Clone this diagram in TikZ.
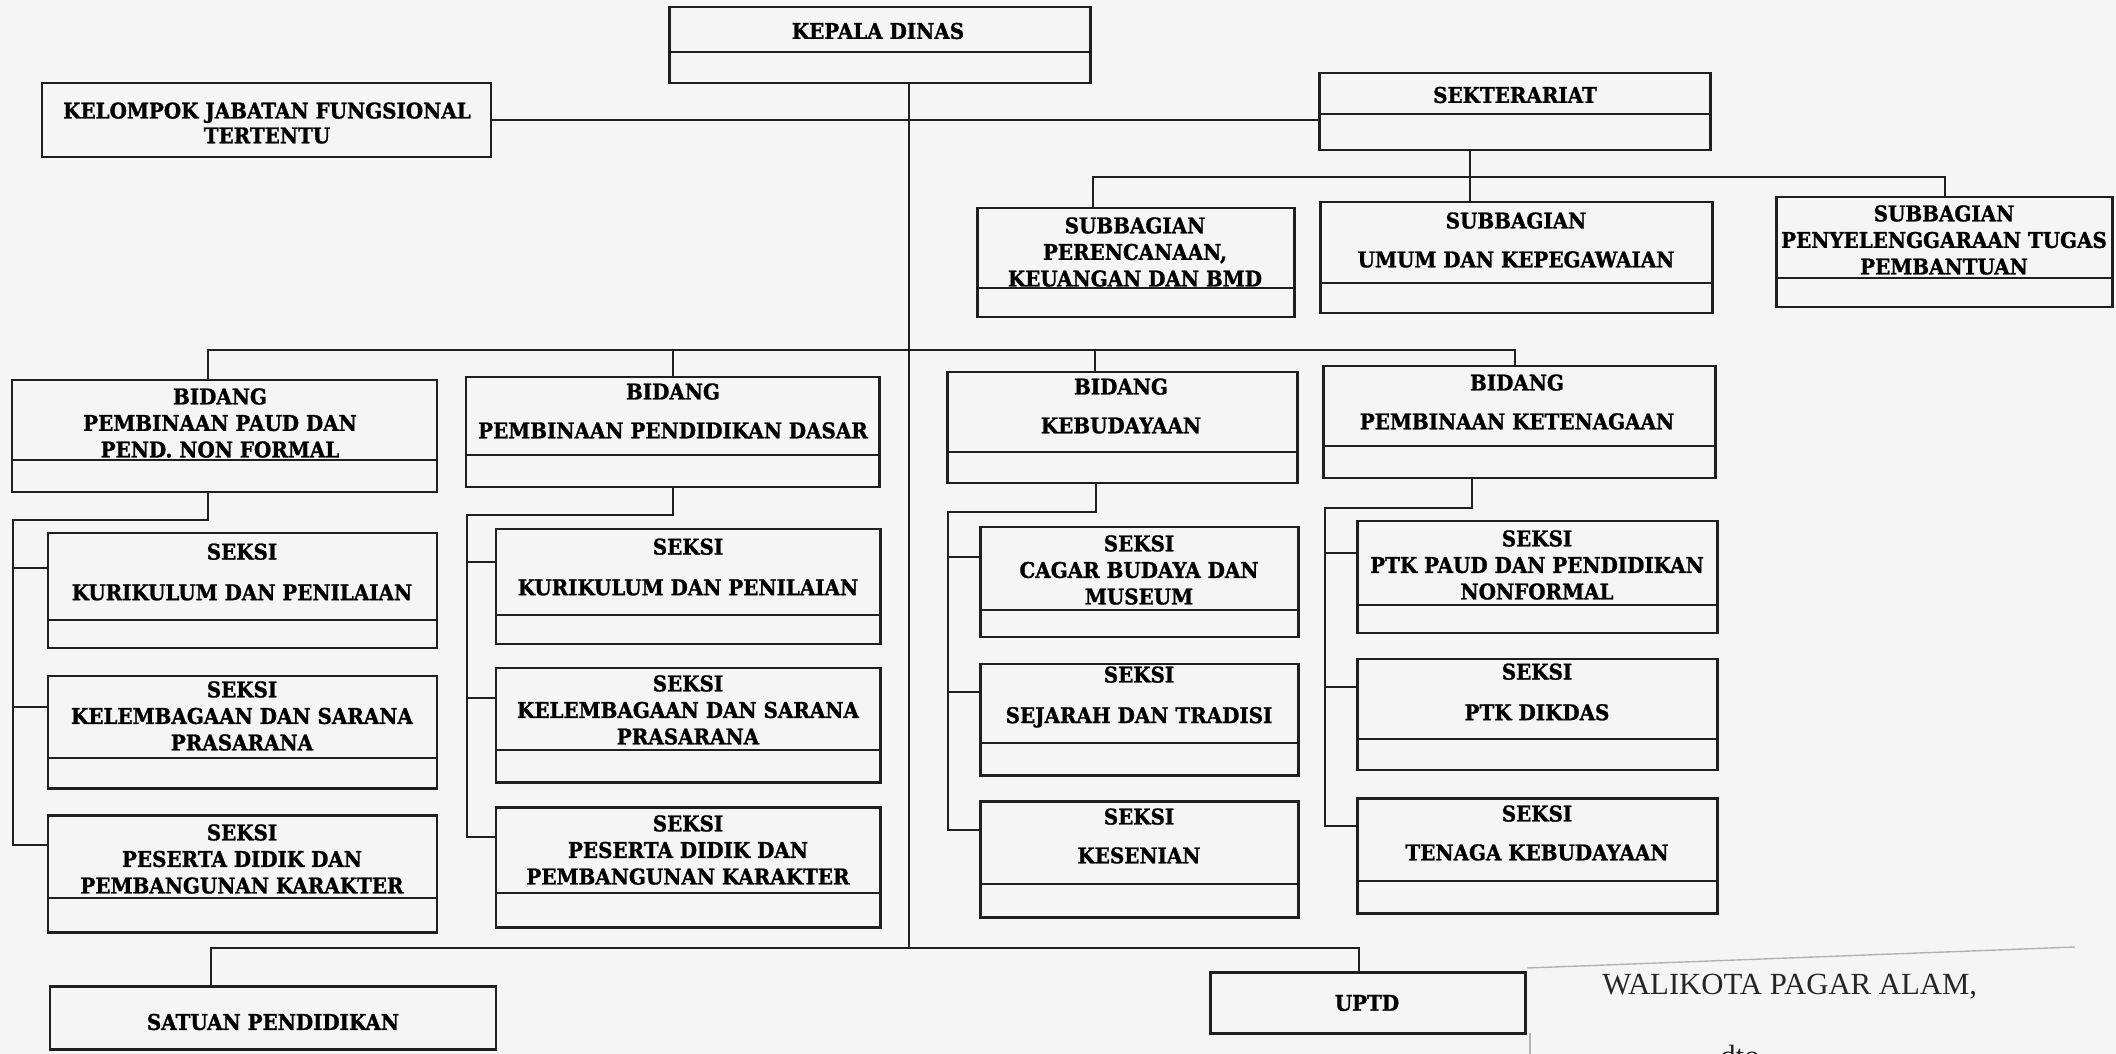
\documentclass[tikz,border=0pt]{standalone}
\usepackage{fontspec}
\setmainfont{DejaVu Serif}
\newfontfamily\boxfont{DejaVu Serif}[FakeStretch=0.92, BoldFeatures={FakeBold=1.2}]
\newfontfamily\sigfont{Liberation Serif}
\usetikzlibrary{fit}
\tikzset{
  orgbox/.style={draw=black!88, line width=1.7pt, inner sep=0pt},
  divline/.style={draw=black!88, line width=1.6pt},
  conn/.style={draw=black!88, line width=1.2pt},
  lbl/.style={font=\boxfont\bfseries\fontsize{12.3}{15.1}\selectfont, align=center, inner sep=0pt, text=black},
  sig/.style={font=\sigfont\fontsize{17.5}{20}\selectfont, inner sep=0pt, text=black!85},
  artifact/.style={draw=black!30, line width=0.8pt},
}
\newcommand\obox[6]{\node[orgbox, fit={(#2,#3) (#4,#5)}] (#1) {};\draw[divline] (#2,#6) -- (#4,#6);}
\newcommand\pbox[5]{\node[orgbox, fit={(#2,#3) (#4,#5)}] (#1) {};}
\begin{document}
\begin{tikzpicture}[x=0.02cm,y=-0.02cm]
\useasboundingbox (0,0) rectangle (2116,1054);
\fill[black!4] (0,0) rectangle (2116,1054);

% ---- boxes ----
\obox{kd}{669}{7}{1090}{83}{52}
\pbox{kel}{42}{83}{491}{157}
\obox{sek}{1319}{73}{1710}{150}{114}
\obox{sub1}{977}{208}{1294}{317}{288}
\obox{sub2}{1320}{202}{1712}{313}{283}
\obox{sub3}{1776}{197}{2112}{307}{278}
\obox{b1}{12}{380}{437}{492}{460}
\obox{b2}{466}{377}{879}{487}{455}
\obox{b3}{947}{372}{1297}{483}{452}
\obox{b4}{1323}{366}{1715}{478}{446}
\obox{s1a}{48}{533}{437}{648}{620}
\obox{s1b}{48}{676}{437}{788}{758}
\obox{s1c}{48}{815}{437}{932}{898}
\obox{s2a}{496}{529}{880}{644}{615}
\obox{s2b}{496}{668}{880}{782}{750}
\obox{s2c}{496}{807}{880}{927}{893}
\obox{s3a}{980}{527}{1298}{637}{610}
\obox{s3b}{980}{664}{1298}{775}{743}
\obox{s3c}{980}{801}{1298}{917}{884}
\obox{s4a}{1357}{521}{1717}{633}{605}
\obox{s4b}{1357}{659}{1717}{770}{739}
\obox{s4c}{1357}{798}{1717}{913}{881}
\pbox{sat}{50}{986}{496}{1049}
\pbox{uptd}{1210}{972}{1525}{1033}

% ---- labels ----
\node[lbl] (t-kd) at (878,31) {KEPALA DINAS};
\node[lbl] (t-kel) at (267,123) {KELOMPOK JABATAN FUNGSIONAL\\[-1pt]TERTENTU};
\node[lbl] (t-sek) at (1515,95) {SEKTERARIAT};
\node[lbl] (t-sub1) at (1135,252) {SUBBAGIAN\\PERENCANAAN,\\KEUANGAN DAN BMD};
\node[lbl] (t-sub2) at (1516,240) {SUBBAGIAN\\[7pt]UMUM DAN KEPEGAWAIAN};
\node[lbl] (t-sub3) at (1944,240) {SUBBAGIAN\\PENYELENGGARAAN TUGAS\\PEMBANTUAN};
\node[lbl] (t-b1) at (220,423) {BIDANG\\PEMBINAAN PAUD DAN\\PEND. NON FORMAL};
\node[lbl] (t-b2) at (673,411) {BIDANG\\[7pt]PEMBINAAN PENDIDIKAN DASAR};
\node[lbl] (t-b3) at (1121,406) {BIDANG\\[7pt]KEBUDAYAAN};
\node[lbl] (t-b4) at (1517,402) {BIDANG\\[7pt]PEMBINAAN KETENAGAAN};
\node[lbl] (t-s1a) at (242,572) {SEKSI\\[8pt]KURIKULUM DAN PENILAIAN};
\node[lbl] (t-s1b) at (242,716) {SEKSI\\KELEMBAGAAN DAN SARANA\\PRASARANA};
\node[lbl] (t-s1c) at (242,859) {SEKSI\\PESERTA DIDIK DAN\\PEMBANGUNAN KARAKTER};
\node[lbl] (t-s2a) at (688,567) {SEKSI\\[8pt]KURIKULUM DAN PENILAIAN};
\node[lbl] (t-s2b) at (688,710) {SEKSI\\KELEMBAGAAN DAN SARANA\\PRASARANA};
\node[lbl] (t-s2c) at (688,850) {SEKSI\\PESERTA DIDIK DAN\\PEMBANGUNAN KARAKTER};
\node[lbl] (t-s3a) at (1139,570) {SEKSI\\CAGAR BUDAYA DAN\\MUSEUM};
\node[lbl] (t-s3b) at (1139,697) {SEKSI\\[8pt]SEJARAH DAN TRADISI};
\node[lbl] (t-s3c) at (1139,836) {SEKSI\\[7pt]KESENIAN};
\node[lbl] (t-s4a) at (1537,565) {SEKSI\\PTK PAUD DAN PENDIDIKAN\\NONFORMAL};
\node[lbl] (t-s4b) at (1537,692) {SEKSI\\[8pt]PTK DIKDAS};
\node[lbl] (t-s4c) at (1537,833) {SEKSI\\[7pt]TENAGA KEBUDAYAAN};
\node[lbl] (t-sat) at (273,1022) {SATUAN PENDIDIKAN};
\node[lbl] (t-uptd) at (1367,1003) {UPTD};

\node[sig, anchor=west] (wali) at (1602,987) {WALIKOTA PAGAR ALAM,};
\node[sig, anchor=north west] (dto) at (1720,1045) {dto.};

% ---- junction coordinates ----
\coordinate (tb) at (909,948);
\coordinate (sj) at (1470,177);
\coordinate (sl) at (1093,177);
\coordinate (sr) at (1945,177);
\coordinate (bl) at (208,350);
\coordinate (bj2) at (673,350);
\coordinate (bj3) at (1095,350);
\coordinate (br) at (1515,350);
\coordinate (ul) at (211,948);
\coordinate (ur) at (1359,948);
% bidang 1 rail
\coordinate (k1) at (208,520);
\coordinate (r1) at (13,520);
\coordinate (c1a) at (13,568);
\coordinate (c1b) at (13,707);
\coordinate (c1c) at (13,845);
% bidang 2 rail
\coordinate (k2) at (673,515);
\coordinate (r2) at (467,515);
\coordinate (c2a) at (467,562);
\coordinate (c2b) at (467,698);
\coordinate (c2c) at (467,837);
% bidang 3 rail
\coordinate (k3) at (1096,512);
\coordinate (r3) at (948,512);
\coordinate (c3a) at (948,557);
\coordinate (c3b) at (948,692);
\coordinate (c3c) at (948,830);
% bidang 4 rail
\coordinate (k4) at (1472,508);
\coordinate (r4) at (1325,508);
\coordinate (c4a) at (1325,553);
\coordinate (c4b) at (1325,687);
\coordinate (c4c) at (1325,826);

% ---- connectors ----
\draw[conn] (kd.south -| tb) -- (tb);
\draw[conn] (kel.east) -- (kel.east -| sek.west);
\draw[conn] (sek.south -| sj) -- (sj) -- (sub2.north -| sj);
\draw[conn] (sub1.north -| sl) -- (sl) -- (sr) -- (sub3.north -| sr);
\draw[conn] (b1.north -| bl) -- (bl) -- (br) -- (b4.north -| br);
\draw[conn] (bj2) -- (b2.north -| bj2);
\draw[conn] (bj3) -- (b3.north -| bj3);
\draw[conn] (sat.north -| ul) -- (ul) -- (ur) -- (uptd.north -| ur);

\draw[conn] (b1.south -| k1) -- (k1) -- (r1) -- (c1c) -- (c1c -| s1c.west);
\draw[conn] (c1a) -- (c1a -| s1a.west);
\draw[conn] (c1b) -- (c1b -| s1b.west);
\draw[conn] (b2.south -| k2) -- (k2) -- (r2) -- (c2c) -- (c2c -| s2c.west);
\draw[conn] (c2a) -- (c2a -| s2a.west);
\draw[conn] (c2b) -- (c2b -| s2b.west);
\draw[conn] (b3.south -| k3) -- (k3) -- (r3) -- (c3c) -- (c3c -| s3c.west);
\draw[conn] (c3a) -- (c3a -| s3a.west);
\draw[conn] (c3b) -- (c3b -| s3b.west);
\draw[conn] (b4.south -| k4) -- (k4) -- (r4) -- (c4c) -- (c4c -| s4c.west);
\draw[conn] (c4a) -- (c4a -| s4a.west);
\draw[conn] (c4b) -- (c4b -| s4b.west);

% ---- faint scan marks ----
\draw[artifact] (1527,968) -- (2075,947);
\draw[artifact] (1530,1033) -- (1530,1054);
\end{tikzpicture}
\end{document}
